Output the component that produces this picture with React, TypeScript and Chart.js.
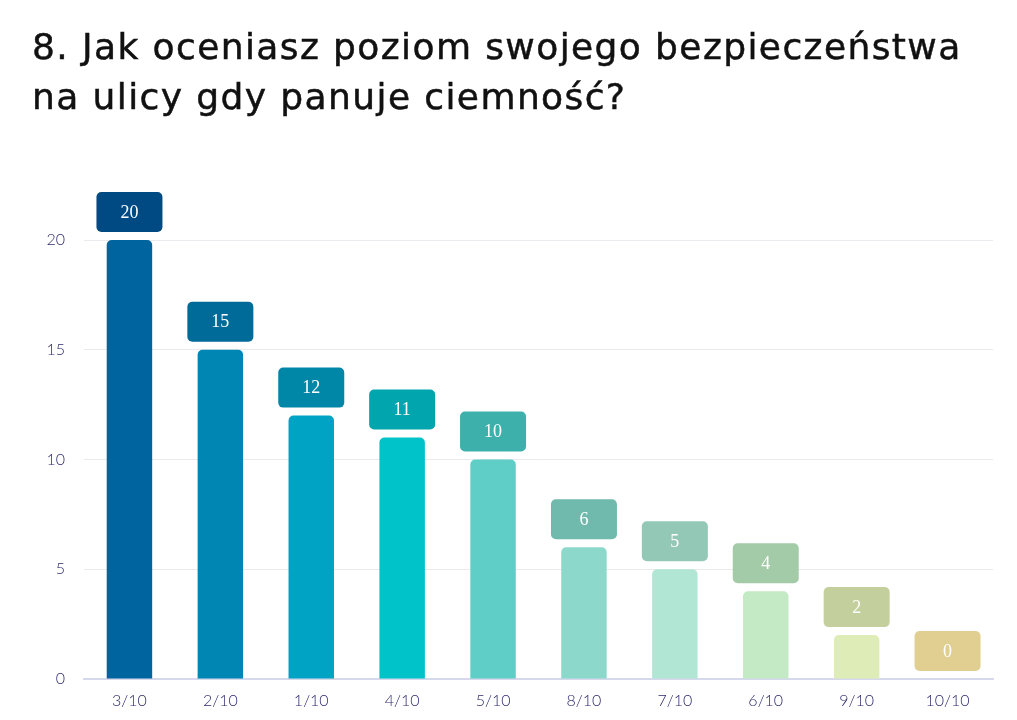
import { useEffect, useRef } from "react";
import { Chart, registerables } from "chart.js";

Chart.register(...registerables);

const titleLines = ["8. Jak oceniasz poziom swojego bezpieczeństwa", "na ulicy gdy panuje ciemność?"];
const categories = ["3/10", "2/10", "1/10", "4/10", "5/10", "8/10", "7/10", "6/10", "9/10", "10/10"];
const counts = [20, 15, 12, 11, 10, 6, 5, 4, 2, 0];
const yTicks = [0, 5, 10, 15, 20];
const barColors = ["#00649e", "#0086b3", "#00a3c4", "#00c2c9", "#5ecec7", "#8cd9cc", "#b1e5d4", "#c3eac5", "#deedb7", "#f0e5b0"];
const labelColors = ["#004a84", "#006a99", "#0086a7", "#00a5ad", "#3eb0ab", "#6fbaac", "#93c8b6", "#a4cba8", "#c3cf9d", "#e1cf91"];

const valueBoxes = {
  id: "valueBoxes",
  afterDatasetsDraw(chart: Chart) {
    const ctx = chart.ctx;
    const meta = chart.getDatasetMeta(0);
    ctx.save();
    meta.data.forEach((bar: any, i: number) => {
      const w = 66;
      const h = 40;
      const x = bar.x - w / 2;
      const y = bar.y - 8 - h;
      ctx.fillStyle = labelColors[i];
      ctx.beginPath();
      ctx.roundRect(x, y, w, h, 5);
      ctx.fill();
      ctx.fillStyle = "#ffffff";
      ctx.font = "18px 'Liberation Serif'";
      ctx.textAlign = "center";
      ctx.textBaseline = "middle";
      ctx.fillText(String(counts[i]), bar.x, y + h / 2 + 1);
    });
    ctx.restore();
  },
};

export default function App() {
  const canvasRef = useRef<HTMLCanvasElement>(null);

  useEffect(() => {
    document.body.style.margin = "0";
    const canvas = canvasRef.current;
    if (!canvas) return;

    const chart = new Chart(canvas, {
      type: "bar",
      data: {
        labels: categories,
        datasets: [
          {
            data: counts,
            backgroundColor: barColors,
            borderRadius: 5,
            borderSkipped: "start",
            barPercentage: 0.5,
            categoryPercentage: 1,
          },
        ],
      },
      options: {
        animation: false,
        responsive: true,
        maintainAspectRatio: false,
        layout: { padding: { top: 240, right: 24, left: 0, bottom: 0 } },
        plugins: {
          legend: { display: false },
          tooltip: { enabled: false },
        },
        scales: {
          x: {
            grid: { display: false },
            border: { display: true, color: "#d6d9ec", width: 2 },
            ticks: {
              color: "#2e2a6e",
              font: { family: "Lato", size: 16, weight: 300 },
              padding: 4,
            },
            afterFit(s: any) {
              s.height = 41;
            },
          },
          y: {
            min: 0,
            max: 20,
            afterBuildTicks(s: any) {
              s.ticks = yTicks.map((v) => ({ value: v }));
            },
            grid: { color: "#e9e9ee", drawTicks: false },
            border: { display: false },
            ticks: {
              color: "#2e2a6e",
              font: { family: "Lato", size: 16, weight: 300 },
              padding: 19,
            },
            afterFit(s: any) {
              s.width = 84;
            },
          },
        },
      },
      plugins: [valueBoxes],
    });

    return () => chart.destroy();
  }, []);

  return (
    <div style={{ position: "relative", width: 1017, height: 720, background: "#fff" }}>
      <div
        style={{
          position: "absolute",
          left: 32,
          top: 22,
          fontFamily: "'DejaVu Sans', sans-serif",
          fontSize: 36,
          letterSpacing: 1.4,
          lineHeight: "50px",
          color: "#111",
          WebkitTextStroke: "0.5px #111",
          whiteSpace: "nowrap",
          zIndex: 1,
        }}
      >
        {titleLines.map((line) => (
          <div key={line}>{line}</div>
        ))}
      </div>
      <div style={{ position: "absolute", left: 0, top: 0, width: 1017, height: 720 }}>
        <canvas ref={canvasRef} />
      </div>
    </div>
  );
}
